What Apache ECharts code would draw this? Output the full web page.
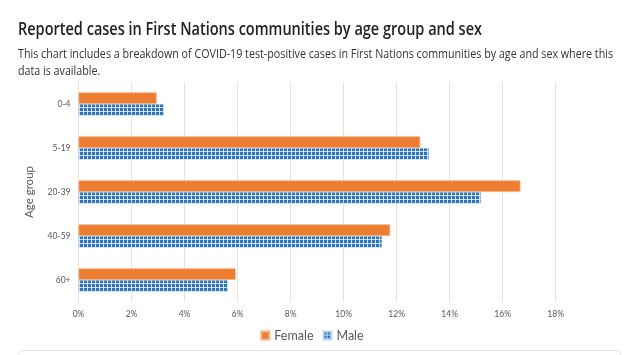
<!DOCTYPE html>
<html><head><meta charset="utf-8">
<script src="https://cdn.jsdelivr.net/npm/echarts@6/dist/echarts.min.js"></script>
<style>
html,body{margin:0;padding:0;background:#fff;}
#c{width:624px;height:355px;}
</style></head>
<body><div id="c"></div>
<script>
const categories = ['0-4','5-19','20-39','40-59','60+'];
const femaleValues = [2.95, 12.89, 16.67, 11.76, 5.93];
const maleValues = [3.22, 13.22, 15.18, 11.45, 5.64];
const seriesNames = ['Female','Male'];
const titleText = 'Reported cases in First Nations communities by age group and sex';
const subLine1 = 'This chart includes a breakdown of COVID-19 test-positive cases in First Nations communities by age and sex where this';
const subLine2 = 'data is available.';

function makePattern(){
  const cv = document.createElement('canvas');
  cv.width = 4; cv.height = 4;
  const ctx = cv.getContext('2d');
  ctx.fillStyle = '#2E75B6';
  ctx.fillRect(0,0,4,4);
  ctx.fillStyle = 'rgba(255,255,255,0.75)';
  ctx.fillRect(3,0,1,4);
  ctx.fillRect(0,3,4,1);
  return cv;
}
const pat = makePattern();
const F = 'Lato';
const mctx = document.createElement('canvas').getContext('2d');
function measure(t, font){ mctx.font = font; return mctx.measureText(t).width; }
const titleFont = '600 18.5px "Open Sans"';
const subFont = '400 12.8px "Open Sans"';
const titleScale = 464 / measure(titleText, titleFont);
const subScale = 595 / measure(subLine1, subFont);

const chart = echarts.init(document.getElementById('c'), null, {renderer:'canvas'});
chart.setOption({
  animation:false,
  legend:{
    data:seriesNames, left:'center', top:324, itemWidth:8, itemHeight:8, itemGap:9,
    icon:'rect',
    textStyle:{fontFamily:F, fontSize:12.5, color:'#595959'}
  },
  grid:{left:78.5, right:68.3, top:82, bottom:53, containLabel:false},
  xAxis:{
    type:'value', min:0, max:18, interval:2,
    axisLabel:{formatter:'{value}%', fontFamily:F, fontSize:8.5, color:'#595959', margin:8},
    splitLine:{lineStyle:{color:'#e3e3e3'}},
    axisLine:{show:false}, axisTick:{show:false}
  },
  yAxis:{
    type:'category', data:categories, inverse:true,
    name:'Age group', nameLocation:'middle', nameGap:43, nameRotate:90,
    nameTextStyle:{fontFamily:F, fontSize:11.5, color:'#595959'},
    axisLabel:{fontFamily:F, fontSize:8.5, color:'#595959', margin:8},
    axisLine:{show:true, lineStyle:{color:'#e3e3e3'}}, axisTick:{show:false}
  },
  series:[{
    name:seriesNames[0], type:'bar', data:femaleValues, barGap:'0%', barCategoryGap:'47%',
    itemStyle:{color:'#ED7D31', borderColor:'#F4B183', borderWidth:0.8}
  },{
    name:seriesNames[1], type:'bar', data:maleValues, barGap:'0%', barCategoryGap:'47%',
    itemStyle:{color:{image:pat, repeat:'repeat'}, borderColor:'#BDD7EE', borderWidth:0.5}
  }],
  graphic:[{
    type:'text', x:18, y:39, scaleX:titleScale, silent:true,
    style:{text:titleText, font:titleFont, fill:'#222', verticalAlign:'bottom'}
  },{
    type:'text', x:18, y:60.5, scaleX:subScale, silent:true,
    style:{text:subLine1, font:subFont, fill:'#333', verticalAlign:'bottom'}
  },{
    type:'text', x:18, y:78, scaleX:subScale, silent:true,
    style:{text:subLine2, font:subFont, fill:'#333', verticalAlign:'bottom'}
  },{
    type:'rect', shape:{x:18.5, y:350.5, width:602, height:30, r:4},
    style:{fill:'#fff', stroke:'#e6e6e6', lineWidth:1}, silent:true
  }]
});
</script></body></html>
